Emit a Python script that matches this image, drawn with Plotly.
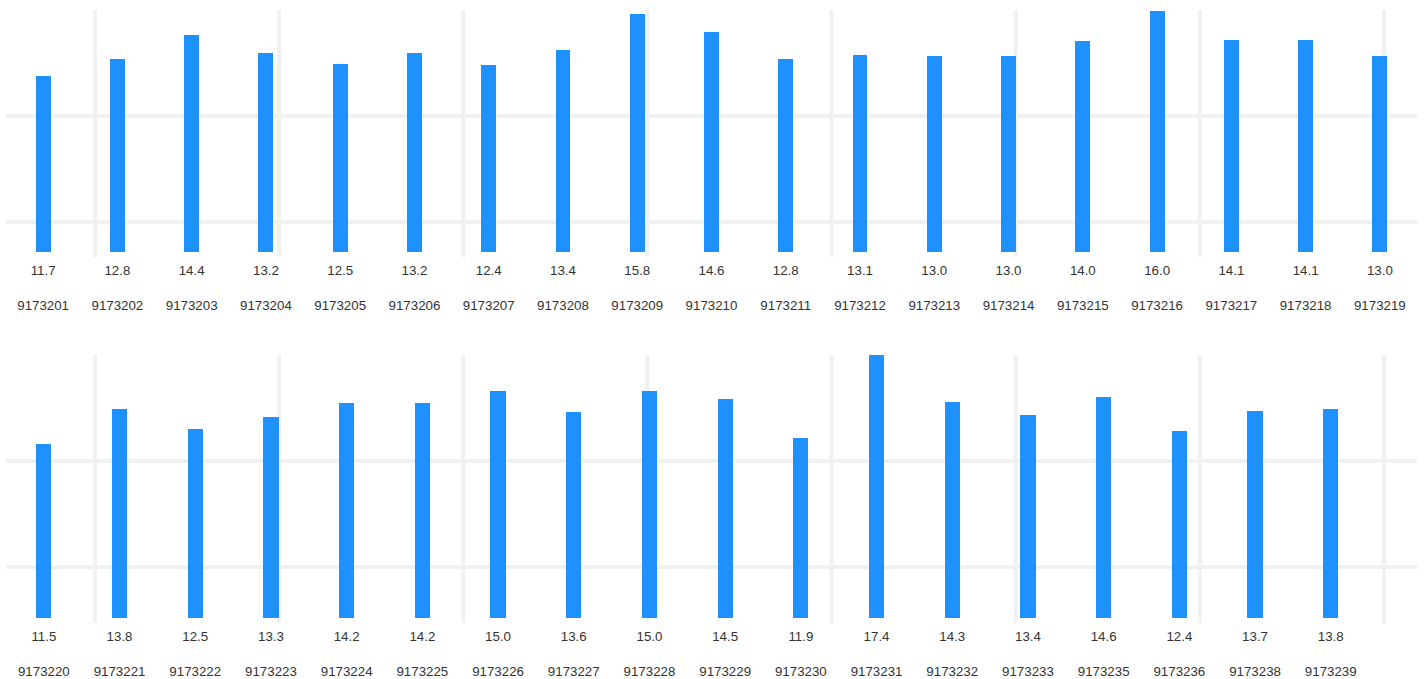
import plotly.graph_objects as go
from plotly.subplots import make_subplots

# ---- data ----
top_ids = ["9173201", "9173202", "9173203", "9173204", "9173205", "9173206", "9173207",
           "9173208", "9173209", "9173210", "9173211", "9173212", "9173213", "9173214",
           "9173215", "9173216", "9173217", "9173218", "9173219"]
top_values = [11.7, 12.8, 14.4, 13.2, 12.5, 13.2, 12.4, 13.4, 15.8, 14.6,
              12.8, 13.1, 13.0, 13.0, 14.0, 16.0, 14.1, 14.1, 13.0]

bottom_ids = ["9173220", "9173221", "9173222", "9173223", "9173224", "9173225", "9173226",
              "9173227", "9173228", "9173229", "9173230", "9173231", "9173232", "9173233",
              "9173235", "9173236", "9173238", "9173239"]
bottom_values = [11.5, 13.8, 12.5, 13.3, 14.2, 14.2, 15.0, 13.6, 15.0, 14.5,
                 11.9, 17.4, 14.3, 13.4, 14.6, 12.4, 13.7, 13.8]

# ---- style ----
BAR_COLOR = "#1E90FF"
GRID_COLOR = "#f1f1f1"
TEXT_COLOR = "#333333"
FONT = "Arial, Liberation Sans, sans-serif"
W, H = 1426, 679
ML, MR, MT, MB = 6, 9, 11, 61

fig = make_subplots(rows=2, cols=1, shared_xaxes=False, vertical_spacing=0.17)

rows = [(top_ids, top_values), (bottom_ids, bottom_values)]
for r, (ids, vals) in enumerate(rows, start=1):
    fig.add_trace(go.Bar(x=ids, y=vals, marker=dict(color=BAR_COLOR, line=dict(width=0)),
                         width=0.2, showlegend=False, hoverinfo="x+y"), row=r, col=1)
    fig.update_xaxes(type="category", tickmode="array", tickvals=ids,
                     ticktext=[f"{v:.1f}<br><br>{c}" for v, c in zip(vals, ids)],
                     showgrid=False, zeroline=False, showline=False, ticks="",
                     ticklabelstandoff=9, automargin=False,
                     tickfont=dict(family=FONT, size=13.3, color=TEXT_COLOR),
                     row=r, col=1)
    m = max(vals)
    fig.update_yaxes(range=[0, m], tickmode="array", tickvals=[m - 7 * k for k in range(3)],
                     showticklabels=False, showgrid=True, gridcolor=GRID_COLOR, gridwidth=4,
                     zeroline=False, showline=False, ticks="", automargin=False,
                     row=r, col=1)

plot_w = W - ML - MR
plot_h = H - MT - MB
base_top, base_bot = 252, 618
fig.update_layout(
    xaxis=dict(range=[-0.5, len(top_ids) - 0.5]),
    xaxis2=dict(range=[-0.5, -0.5 + plot_w / 75.7]),
    yaxis=dict(domain=[(base_bot - base_top) / plot_h, 1.0]),
    yaxis2=dict(domain=[0.0, (base_bot - 355) / plot_h]),
)

# decorative vertical grid lines (fixed pixel pitch in the reference)
shapes = []
for k in range(8):
    xf = (95 - ML + 184.14 * k) / plot_w
    for (y0, y1) in [((base_bot - 257) / plot_h, (base_bot - 10) / plot_h),
                     ((base_bot - 623) / plot_h, (base_bot - 355) / plot_h)]:
        shapes.append(dict(type="line", xref="paper", yref="paper", x0=xf, x1=xf, y0=y0, y1=y1,
                           line=dict(color=GRID_COLOR, width=4), layer="below"))

fig.update_layout(
    width=W, height=H,
    margin=dict(l=ML, r=MR, t=MT, b=MB, autoexpand=False),
    paper_bgcolor="white", plot_bgcolor="white",
    bargap=0, shapes=shapes,
    font=dict(family=FONT, color=TEXT_COLOR),
)

fig.write_html("out.html", config={"displayModeBar": False})

# remove the browser's default body margin so the figure sits at the page origin
with open("out.html", "r", encoding="utf-8") as f:
    html = f.read()
html = html.replace("<body>", '<body style="margin:0;padding:0;overflow:hidden;">', 1)
with open("out.html", "w", encoding="utf-8") as f:
    f.write(html)
